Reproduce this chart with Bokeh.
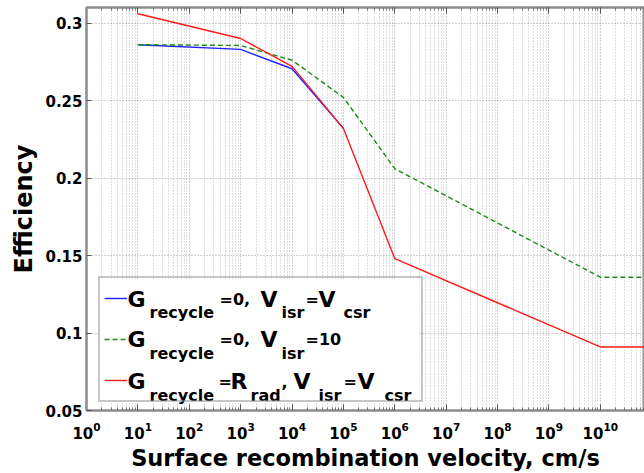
from bokeh.plotting import figure
from bokeh.models import (Range1d, FixedTicker, LogAxis, Label, Legend, LegendItem,
                          BoxAnnotation)
from bokeh.embed import file_html
from bokeh.resources import INLINE

# ---------------- data ----------------
x_blue = [1e1, 1e3, 1e4, 1e5]
y_blue = [0.286, 0.283, 0.2705, 0.232]

x_green = [1e1, 1e3, 1e4, 1e5, 1e6, 1e10, 1e12]
y_green = [0.286, 0.2855, 0.276, 0.252, 0.206, 0.136, 0.136]

x_red = [1e1, 1e3, 1e4, 1e5, 1e6, 1e10, 1e12]
y_red = [0.306, 0.290, 0.272, 0.232, 0.148, 0.091, 0.091]

x_decades = [10 ** k for k in range(0, 12)]
x_minor = [m * 10 ** k for k in range(0, 11) for m in range(2, 10)]
y_ticks = [0.05, 0.1, 0.15, 0.2, 0.25, 0.3]
y_tick_labels = ["0.05", "0.1", "0.15", "0.2", "0.25", "0.3"]

FONT = "DejaVu Sans"
GRAY = "#8c8c8c"

p = figure(width=644, height=473, x_axis_type="log",
           x_range=Range1d(1, 10 ** 10.86), y_range=Range1d(0.05, 0.31),
           output_backend="svg", toolbar_location=None,
           min_border_left=86, min_border_right=0, min_border_top=7,
           min_border_bottom=61)
p.background_fill_color = "white"
p.border_fill_color = "white"
p.outline_line_color = GRAY
p.outline_line_width = 2

# axes
xa = p.xaxis[0]
xa.ticker = FixedTicker(ticks=x_decades, minor_ticks=x_minor)
xa.axis_label = "Surface recombination velocity, cm/s"
xa.axis_label_text_font = FONT
xa.axis_label_text_font_style = "bold"
xa.axis_label_text_font_size = "22.5px"
xa.axis_label_text_color = "black"
xa.axis_label_standoff = 3
xa.major_label_text_font = FONT
xa.major_label_text_font_style = "bold"
xa.major_label_text_font_size = "15px"
xa.major_label_text_color = "black"
xa.major_label_standoff = 11
xa.axis_line_color = GRAY
xa.axis_line_width = 2
xa.major_tick_in = 6
xa.major_tick_out = 0
xa.minor_tick_in = 3
xa.minor_tick_out = 0
xa.major_tick_line_color = "#555555"
xa.minor_tick_line_color = "#777777"

top = LogAxis(ticker=FixedTicker(ticks=x_decades, minor_ticks=x_minor),
              major_label_text_font_size="1px", major_label_text_alpha=0,
              major_label_standoff=0,
              axis_line_color=GRAY, axis_line_width=2,
              major_tick_in=6, major_tick_out=0, minor_tick_in=3, minor_tick_out=0,
              major_tick_line_color="#555555", minor_tick_line_color="#777777")
p.add_layout(top, "above")

ya = p.yaxis[0]
ya.ticker = FixedTicker(ticks=y_ticks)
ya.major_label_overrides = {t: s for t, s in zip(y_ticks, y_tick_labels)}
ya.axis_label = "Efficiency"
ya.axis_label_text_font = FONT
ya.axis_label_text_font_style = "bold"
ya.axis_label_text_font_size = "24px"
ya.axis_label_text_color = "black"
ya.axis_label_standoff = 4
ya.major_label_text_font = FONT
ya.major_label_text_font_style = "bold"
ya.major_label_text_font_size = "15px"
ya.major_label_text_color = "black"
ya.major_label_standoff = 4
ya.axis_line_color = GRAY
ya.axis_line_width = 2
ya.major_tick_in = 5
ya.major_tick_out = 0
ya.minor_tick_line_color = None
ya.major_tick_line_color = "#555555"

# grids
p.xgrid.grid_line_color = "#a0a0a0"
p.xgrid.grid_line_dash = "1 2"
p.xgrid.minor_grid_line_color = "#bcbcbc"
p.xgrid.minor_grid_line_dash = "1 2"
p.ygrid.grid_line_color = "#a0a0a0"
p.ygrid.grid_line_dash = "1 2"

# series
rb = p.line(x_blue, y_blue, line_color="#1f1fff", line_width=1.4)
rg = p.line(x_green, y_green, line_color="#1a8a1a", line_width=1.4, line_dash="5 3")
rr = p.line(x_red, y_red, line_color="#ff1a1a", line_width=1.4)

# legend background (white box hiding the grid), frame-relative pixels
p.add_layout(BoxAnnotation(left=12, right=333, bottom=8, top=132,
                           left_units="screen", right_units="screen",
                           bottom_units="screen", top_units="screen",
                           fill_color="white", fill_alpha=1, line_color=None,
                           level="underlay"))

# legend (line samples + border); text is drawn with labels below
leg = Legend(items=[LegendItem(label="\u00a0", renderers=[rb]),
                    LegendItem(label="\u00a0", renderers=[rg]),
                    LegendItem(label="\u00a0", renderers=[rr])],
             location=(12, 8), margin=0, padding=4, spacing=9,
             glyph_width=23, glyph_height=32, label_height=32,
             label_width=285, label_standoff=5,
             label_text_font_size="10px",
             border_line_color=GRAY, border_line_width=2,
             background_fill_alpha=0)
p.add_layout(leg)

BIG, MID, SUB = "22px", "16px", "16px"
FRAME_LEFT, FRAME_BOTTOM = 86, 412
# (text, page x, page baseline y, size)
legend_texts = [
    ("G", 127, 301, BIG), ("recycle", 149, 314, SUB), ("=0,", 219, 301, MID),
    ("V", 260, 301, BIG), ("isr", 281, 314, SUB), ("=", 305, 301, MID),
    ("V", 318, 301, BIG), ("csr", 343, 314, SUB),
    ("G", 127, 341, BIG), ("recycle", 149, 355, SUB), ("=0,", 219, 341, MID),
    ("V", 260, 341, BIG), ("isr", 281, 355, SUB), ("=10", 305, 341, MID),
    ("G", 127, 383, BIG), ("recycle", 149, 397, SUB), ("=", 218, 383, MID),
    ("R", 230, 383, BIG), ("rad", 250, 397, SUB), (",", 281, 383, MID),
    ("V", 293, 383, BIG), ("isr", 318, 397, SUB), ("=", 343, 383, MID),
    ("V", 357, 383, BIG), ("csr", 384, 397, SUB),
]
for txt, px, py, sz in legend_texts:
    p.add_layout(Label(x=px - FRAME_LEFT, y=FRAME_BOTTOM - py,
                       x_units="screen", y_units="screen", level="overlay",
                       text=txt, text_font=FONT, text_font_style="bold",
                       text_font_size=sz, text_color="black",
                       text_align="left", text_baseline="alphabetic"))

open("out.html", "w").write(file_html(p, INLINE))
